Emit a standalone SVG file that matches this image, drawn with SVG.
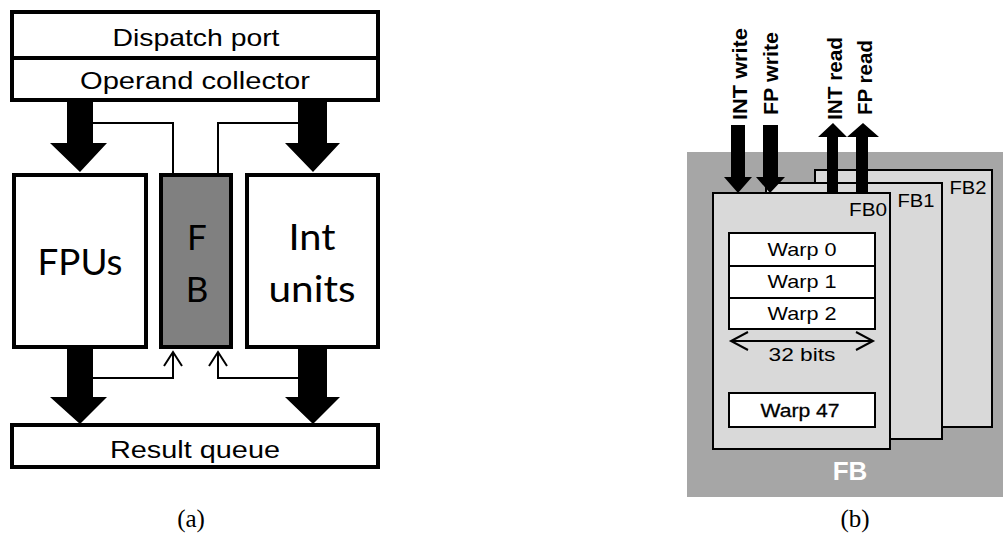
<svg xmlns="http://www.w3.org/2000/svg" width="1003" height="536" viewBox="0 0 1003 536">
  <style>
    .box { fill: #ffffff; stroke: #000000; stroke-width: 4; }
    .fb { fill: #808080; stroke: #000000; stroke-width: 4; }
    .big { fill: #000000; }
    .wire { fill: none; stroke: #000000; stroke-width: 2; }
    .sans { font-family: "Liberation Sans", Arial, sans-serif; fill: #000000; }
    .human { font-family: Lato, "Open Sans", sans-serif; fill: #000000; }
    .cap { font-family: "Liberation Serif", "Times New Roman", serif; font-size: 25px; fill: #000000; }
    .card { fill: #d9d9d9; stroke: #000000; stroke-width: 2; }
    .warp { fill: #ffffff; stroke: #000000; stroke-width: 2; }
    .vlab { font-family: "Liberation Sans", Arial, sans-serif; font-weight: bold; font-size: 21px; fill: #000000; }
  </style>

  <!-- (a) SM pipeline with the FB -->
  <g id="dispatch-port">
    <rect class="box" x="12" y="12" width="366" height="46"/>
    <text class="sans" x="196" y="46" font-size="24" text-anchor="middle" textLength="167" lengthAdjust="spacingAndGlyphs">Dispatch port</text>
  </g>
  <g id="operand-collector">
    <rect class="box" x="12" y="58" width="366" height="42"/>
    <text class="sans" x="195" y="89" font-size="23" text-anchor="middle" textLength="230" lengthAdjust="spacingAndGlyphs">Operand collector</text>
  </g>
  <g id="fpus">
    <rect class="box" x="14" y="175" width="132" height="172"/>
    <text class="human" x="80" y="275" font-size="37" text-anchor="middle" textLength="85" lengthAdjust="spacingAndGlyphs">FPUs</text>
  </g>
  <g id="fb-a">
    <rect class="fb" x="161" y="175" width="70" height="172"/>
    <text class="human" x="197" y="250" font-size="35" text-anchor="middle">F</text>
    <text class="human" x="197" y="302" font-size="35" text-anchor="middle">B</text>
  </g>
  <g id="int-units">
    <rect class="box" x="247" y="175" width="131" height="172"/>
    <text class="human" x="312" y="250" font-size="37" text-anchor="middle" textLength="47" lengthAdjust="spacingAndGlyphs">Int</text>
    <text class="human" x="312" y="302" font-size="37" text-anchor="middle" textLength="87" lengthAdjust="spacingAndGlyphs">units</text>
  </g>
  <g id="result-queue">
    <rect class="box" x="12" y="425" width="366" height="42"/>
    <text class="sans" x="195" y="458" font-size="23" text-anchor="middle" textLength="170" lengthAdjust="spacingAndGlyphs">Result queue</text>
  </g>

  <g id="connectors-a">
    <!-- wide data paths -->
    <polygon class="big" points="67,101 93,101 93,143 107,143 80,172 50,143 67,143"/>
    <polygon class="big" points="298,101 327,101 327,143 340,143 313,172 285,143 298,143"/>
    <polygon class="big" points="67,349 93,349 93,397 107,397 80,424 50,397 67,397"/>
    <polygon class="big" points="298,349 327,349 327,397 340,397 313,424 285,397 298,397"/>
    <!-- FB read ports -->
    <polyline class="wire" points="93,123 173,123 173,174"/>
    <polyline class="wire" points="298,123 218,123 218,174"/>
    <!-- FB write ports -->
    <polyline class="wire" points="93,378 173,378 173,352"/>
    <polyline class="wire" points="164,366 173,352 182,366"/>
    <polyline class="wire" points="298,378 218,378 218,352"/>
    <polyline class="wire" points="209,366 218,352 227,366"/>
  </g>
  <text class="cap" x="191" y="527" text-anchor="middle">(a)</text>

  <!-- (b) FB organisation -->
  <g id="fb-b">
    <rect x="687" y="152" width="316" height="345" fill="#a6a6a6"/>
    <text x="850" y="480" font-family="'Liberation Sans', Arial, sans-serif" font-weight="bold" font-size="26" fill="#ffffff" text-anchor="middle">FB</text>
  </g>
  <g id="fb2">
    <rect class="card" x="815" y="170" width="177" height="257"/>
    <text class="sans" x="968" y="194" font-size="18" text-anchor="middle" textLength="37" lengthAdjust="spacingAndGlyphs">FB2</text>
  </g>
  <g id="fb1">
    <rect class="card" x="766" y="183" width="176" height="256"/>
    <text class="sans" x="916" y="207" font-size="18" text-anchor="middle" textLength="37" lengthAdjust="spacingAndGlyphs">FB1</text>
  </g>
  <g id="fb0">
    <rect class="card" x="713" y="193" width="177" height="256"/>
    <text class="sans" x="868" y="216" font-size="18" text-anchor="middle" textLength="38" lengthAdjust="spacingAndGlyphs">FB0</text>
  </g>
  <g id="warps">
    <rect class="warp" x="729" y="233" width="146" height="33"/>
    <rect class="warp" x="729" y="266" width="146" height="32"/>
    <rect class="warp" x="729" y="298" width="146" height="31"/>
    <text class="sans" x="802" y="256" font-size="19" text-anchor="middle" textLength="69" lengthAdjust="spacingAndGlyphs">Warp 0</text>
    <text class="sans" x="802" y="288" font-size="19" text-anchor="middle" textLength="69" lengthAdjust="spacingAndGlyphs">Warp 1</text>
    <text class="sans" x="802" y="320" font-size="19" text-anchor="middle" textLength="69" lengthAdjust="spacingAndGlyphs">Warp 2</text>
    <rect class="warp" x="729" y="393" width="146" height="34"/>
    <text class="sans" x="800" y="417" font-size="19" text-anchor="middle" stroke="#000000" stroke-width="0.3" textLength="79" lengthAdjust="spacingAndGlyphs">Warp 47</text>
  </g>
  <g id="width-marker">
    <line class="wire" x1="731" y1="341" x2="873" y2="341"/>
    <polyline class="wire" points="748,332 731,341 748,350"/>
    <polyline class="wire" points="856,332 873,341 856,350"/>
    <text class="sans" x="802" y="361" font-size="19" text-anchor="middle" textLength="67" lengthAdjust="spacingAndGlyphs">32 bits</text>
  </g>

  <g id="connectors-b">
    <!-- write ports -->
    <polygon class="big" points="731,125 745,125 745,177 752,177 738,193 724,177 731,177"/>
    <polygon class="big" points="763,125 778,125 778,177 785,177 770,193 756,177 763,177"/>
    <!-- read ports -->
    <polygon class="big" points="827,193 838,193 838,137 847,137 833,123 818,137 827,137"/>
    <polygon class="big" points="856,193 868,193 868,137 879,137 863,123 847,137 856,137"/>
  </g>
  <g id="port-labels">
    <text class="vlab" transform="translate(747,120) rotate(-90)" textLength="92" lengthAdjust="spacingAndGlyphs">INT write</text>
    <text class="vlab" transform="translate(778,115) rotate(-90)" textLength="83" lengthAdjust="spacingAndGlyphs">FP write</text>
    <text class="vlab" transform="translate(842,120) rotate(-90)" textLength="83" lengthAdjust="spacingAndGlyphs">INT read</text>
    <text class="vlab" transform="translate(872,115) rotate(-90)" textLength="75" lengthAdjust="spacingAndGlyphs">FP read</text>
  </g>
  <text class="cap" x="855" y="527" text-anchor="middle">(b)</text>
</svg>
